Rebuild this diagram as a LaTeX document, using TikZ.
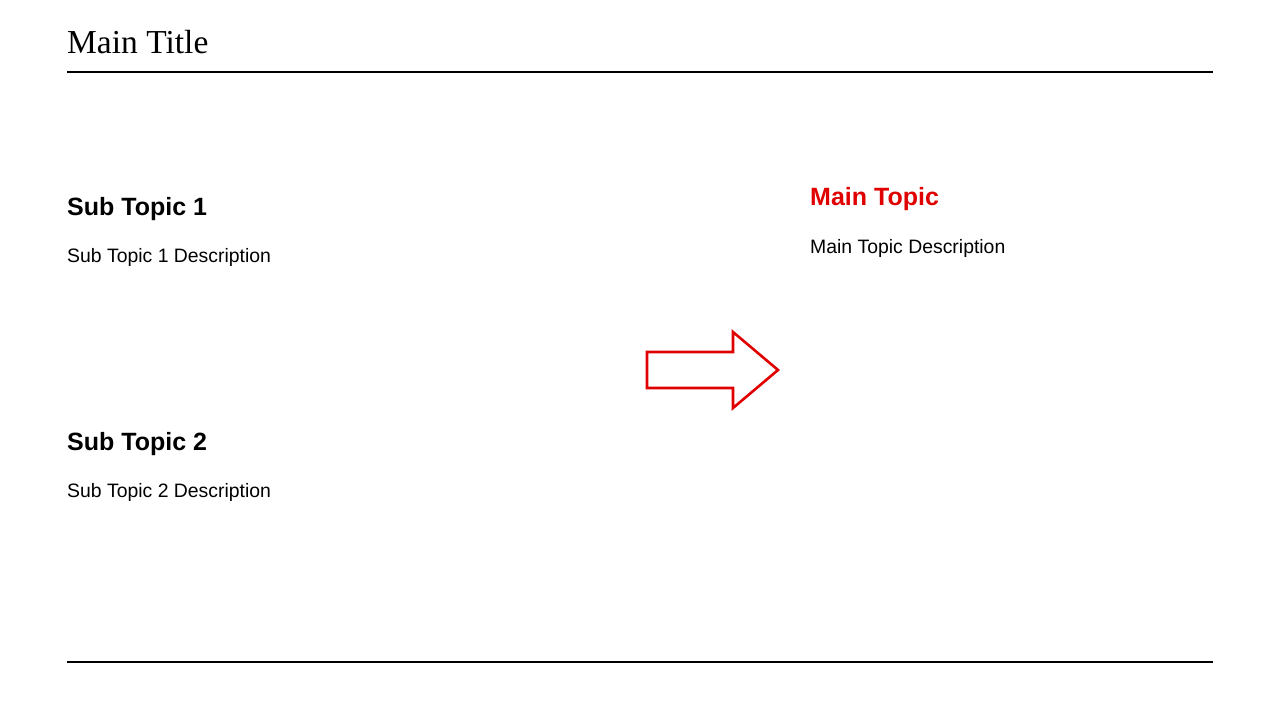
\documentclass[tikz,border=0pt]{standalone}
\usepackage{fontspec}
\setmainfont{Liberation Sans}
\newfontfamily\titlefont{Liberation Serif}
\definecolor{accent}{HTML}{E00000}
\begin{document}
\begin{tikzpicture}[x=1pt,y=-1pt,
  rule/.style={line width=2pt,black},
  heading/.style={anchor=base west,inner sep=0pt,font=\fontsize{25}{30}\selectfont\bfseries},
  desc/.style={anchor=base west,inner sep=0pt,font=\fontsize{19.4}{23}\selectfont},
  arrowshape/.style={draw=accent,line width=2.6pt,fill=white,line join=miter}]
\useasboundingbox (0,0) rectangle (1280,720);
\fill[white] (0,0) rectangle (1280,720);
\node[anchor=base west,inner sep=0pt,font=\fontsize{33.5}{40}\selectfont\titlefont] (title) at (67,53) {Main Title};
\coordinate (tl) at (67,72); \coordinate (tr) at (1213,72);
\coordinate (bl) at (67,662); \coordinate (br) at (1213,662);
\draw[rule] (tl) -- (tr);
\draw[rule] (bl) -- (br);
\node[heading] (s1) at (67,215) {Sub Topic 1};
\node[desc] (s1d) at (67,262) {Sub Topic 1 Description};
\node[heading] (s2) at (67,450) {Sub Topic 2};
\node[desc] (s2d) at (67,497) {Sub Topic 2 Description};
\node[heading,text=accent] (m) at (810,205) {Main Topic};
\node[desc] (md) at (810,253) {Main Topic Description};
\draw[arrowshape] (647,352) -- (733,352) -- (733,332) -- (778,370) -- (733,408) -- (733,388) -- (647,388) -- cycle;
\end{tikzpicture}
\end{document}
